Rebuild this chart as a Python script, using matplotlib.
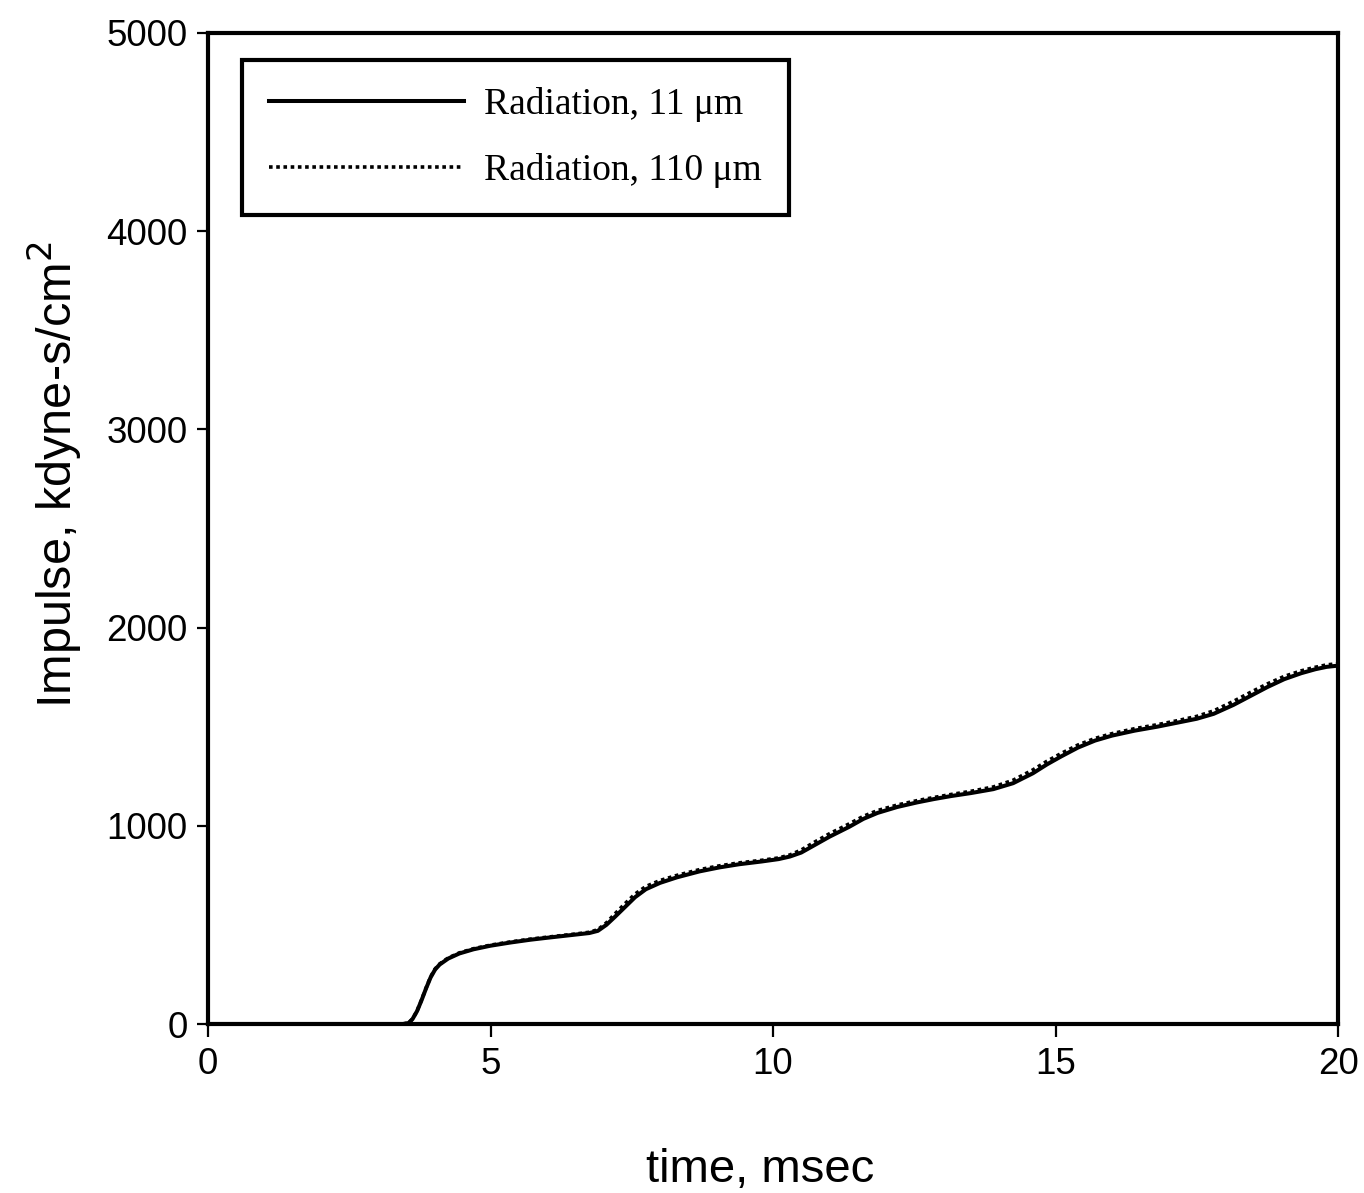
import matplotlib.pyplot as plt

# time in msec, impulse in kdyne-s/cm^2
t_11 = [0.0, 1.0, 2.0, 3.0, 3.45, 3.55, 3.62, 3.7, 3.78, 3.86, 3.94, 4.02, 4.1, 4.25, 4.45,
        4.7, 5.0, 5.35, 5.7, 6.0, 6.25, 6.5, 6.75, 6.9, 7.05, 7.2, 7.38, 7.56, 7.75, 8.0,
        8.3, 8.7, 9.05, 9.4, 9.8, 10.1, 10.3, 10.5, 10.75, 11.0, 11.35, 11.6, 11.85, 12.2,
        12.55, 12.85, 13.15, 13.5, 13.9, 14.25, 14.6, 14.85, 15.1, 15.4, 15.7, 16.0, 16.4,
        16.8, 17.15, 17.5, 17.8, 18.15, 18.45, 18.75, 19.05, 19.35, 19.6, 19.8, 20.0]
imp_11 = [0, 0, 0, 0, 0, 5, 25, 65, 120, 180, 235, 275, 300, 330, 356,
          377, 395, 411, 425, 435, 443, 451, 459, 470, 500, 540, 590, 640, 680, 712,
          740, 770, 790, 806, 820, 832, 845, 865, 905, 945, 995, 1035, 1065, 1095,
          1118, 1135, 1150, 1165, 1185, 1215, 1265, 1310, 1350, 1395, 1430, 1455, 1480,
          1500, 1520, 1540, 1565, 1610, 1655, 1700, 1740, 1770, 1790, 1802, 1808]

t_110 = t_11
imp_110 = [0, 0, 0, 0, 0, 5, 25, 66, 122, 182, 238, 278, 303, 333, 359,
           380, 398, 414, 428, 438, 446, 454, 463, 476, 510, 555, 607, 656, 694, 724,
           750, 779, 798, 813, 826, 838, 853, 878, 920, 960, 1010, 1048, 1077, 1105,
           1127, 1143, 1158, 1174, 1196, 1230, 1282, 1326, 1365, 1408, 1441, 1465, 1490,
           1510, 1530, 1552, 1580, 1628, 1673, 1716, 1754, 1782, 1800, 1812, 1818]

plt.rcParams['font.family'] = ['Liberation Sans', 'DejaVu Sans']

W, H = 1364, 1193
fig = plt.figure(figsize=(W / 100, H / 100), dpi=100)
ax = fig.add_axes([208 / W, 1 - 1024 / H, 1130 / W, 991 / H])

ax.plot(t_110, imp_110, color='black', lw=2.6, linestyle=(0, (1, 1)),
        label='Radiation, 110 \u03bcm', zorder=2)
ax.plot(t_11, imp_11, color='black', lw=2.9, label='Radiation, 11 \u03bcm', zorder=3)

ax.set_xlim(0, 20)
ax.set_ylim(0, 5000)
ax.set_xticks([0, 5, 10, 15, 20])
ax.set_yticks([0, 1000, 2000, 3000, 4000, 5000])
ax.tick_params(direction='out', width=1.6, labelsize=26.5)
ax.tick_params(axis='x', length=9.5, pad=7)
ax.tick_params(axis='y', length=8, pad=6.5)
for s in ax.spines.values():
    s.set_linewidth(3)

# axis titles placed where they sit in the reference
fig.text(760 / W, 1 - 1182 / H, 'time, msec', fontsize=34,
         ha='center', va='baseline')
fig.text(55 / W, 1 - 475 / H, 'Impulse, kdyne-s/cm$^2$', fontsize=35,
         rotation=90, ha='center', va='center')

handles, labels = ax.get_legend_handles_labels()
leg = ax.legend(handles[::-1], labels[::-1], loc='upper left',
                bbox_to_anchor=(34 / 1130, (1024 - 60) / 991), frameon=True,
                fancybox=False, framealpha=1,
                prop={'family': 'Liberation Serif', 'size': 27},
                handlelength=5.2, handletextpad=0.53, labelspacing=0.82,
                borderpad=0.72, borderaxespad=0)
leg.get_frame().set_edgecolor('black')
leg.get_frame().set_linewidth(3)

fig.savefig('out.png', dpi=100)
